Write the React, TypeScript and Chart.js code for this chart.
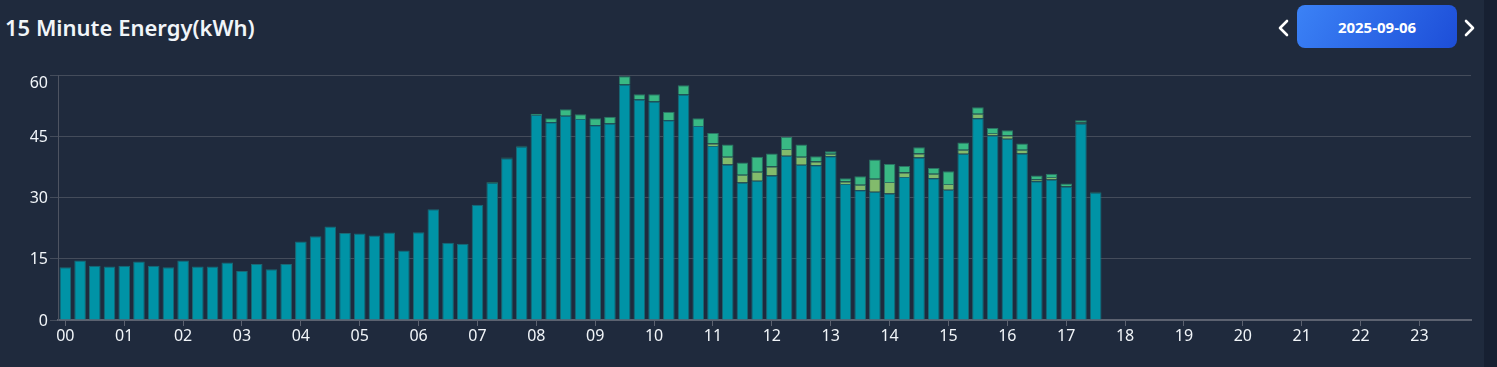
import React, { useEffect, useRef } from "react";
import { Chart, registerables } from "chart.js";

Chart.register(...registerables);

const TITLE = "15 Minute Energy(kWh)";
const DATE_LABEL = "2025-09-06";

const HOUR_LABELS = ["00","01","02","03","04","05","06","07","08","09","10","11","12","13","14","15","16","17","18","19","20","21","22","23"];
const QUARTERS = ["00", "15", "30", "45"];
const SLOT_LABELS = HOUR_LABELS.flatMap((h) => QUARTERS.map((q) => `${h}:${q}`));

const Y_TICKS = [0, 15, 30, 45, 60];

// teal base segment, slots 00:00 .. 17:30
const BASE_KWH = [
  12.9, 14.6, 13.3, 13.1, 13.3, 14.3, 13.3, 12.9, 14.6, 13.1, 13.1, 14.1,
  12.0, 13.7, 12.4, 13.7, 19.2, 20.5, 22.9, 21.3, 21.2, 20.7, 21.4, 17.0,
  21.5, 27.1, 18.9, 18.7, 28.2, 33.6, 39.6, 42.5, 50.2, 48.4, 50.0, 49.2,
  47.7, 48.1, 57.7, 54.0, 53.5, 48.9, 55.2, 47.5, 42.6, 38.1, 33.7, 34.1,
  35.4, 40.2, 38.0, 37.9, 40.1, 33.3, 31.8, 31.4, 31.0, 35.0, 39.8, 34.7,
  31.9, 40.7, 49.4, 45.2, 44.4, 40.8, 34.0, 34.4, 32.7, 48.1, 31.2,
];
const BASE_START = 0;

// olive middle segment, slots 11:00 .. 17:15
const MID_KWH = [
  0.6, 1.9, 1.9, 2.2, 2.2, 1.7, 2.0, 0.9, 0.6, 0.6, 1.3, 3.2, 2.8,
  1.1, 1.0, 1.1, 1.4, 1.0, 1.1, 0.6, 0.8, 0.9, 0.5, 0.6, 0.1, 0.3,
];
const MID_START = 44;

// green top segment, slots 07:15 .. 17:30
const TOP_KWH = [
  0.2, 0.2, 0.2, 0.3, 1.0, 1.6, 1.2, 1.7, 1.7, 2.0, 1.3, 1.8, 2.1, 2.3,
  1.9, 2.6, 3.0, 3.0, 3.7, 3.2, 2.9, 3.0, 1.3, 0.6, 0.8, 2.1, 4.7, 4.4,
  1.6, 1.5, 1.4, 3.1, 1.8, 1.6, 1.2, 1.3, 1.5, 0.9, 0.8, 0.6, 0.5, 0.2,
];
const TOP_START = 29;

function place(start: number, values: number[]): (number | null)[] {
  return SLOT_LABELS.map((_, i) => {
    const k = i - start;
    return k >= 0 && k < values.length ? values[k] : null;
  });
}

const BG = "#1f2a3d";
const GRID = "#444c5b";
const TEXT = "#f1f5f9";
const FONT = "'Noto Sans', 'Open Sans', sans-serif";

const yLabelPlugin = {
  id: "yLabels",
  afterDraw(chart: any) {
    const y = chart.scales.y;
    const area = chart.chartArea;
    const ctx = chart.ctx;
    ctx.save();
    ctx.font = `16px ${FONT}`;
    ctx.fillStyle = TEXT;
    ctx.textAlign = "right";
    ctx.textBaseline = "middle";
    Y_TICKS.forEach((v) => {
      let py = y.getPixelForValue(v);
      if (py < area.top + 7) py = area.top + 7;
      ctx.fillText(String(v), 48, py + 1);
    });
    ctx.restore();
  },
};

export default function App() {
  const ref = useRef<HTMLCanvasElement | null>(null);

  useEffect(() => {
    document.body.style.margin = "0";
    document.body.style.background = BG;
    const canvas = ref.current;
    if (!canvas) return;
    const chart = new Chart(canvas, {
      type: "bar",
      data: {
        labels: SLOT_LABELS,
        datasets: [
          {
            label: "Base",
            data: place(BASE_START, BASE_KWH),
            backgroundColor: "#0093a6",
            borderColor: "#1b6874",
            borderWidth: 1,
          },
          {
            label: "Middle",
            data: place(MID_START, MID_KWH),
            backgroundColor: "#82bb6c",
            borderColor: "#2e7264",
            borderWidth: 1,
          },
          {
            label: "Top",
            data: place(TOP_START, TOP_KWH),
            backgroundColor: "#39b984",
            borderColor: "#2b7565",
            borderWidth: 1,
          },
        ],
      },
      options: {
        responsive: false,
        animation: false,
        layout: { padding: { top: 75, right: 13, bottom: 17, left: 0 } },
        datasets: { bar: { categoryPercentage: 1, barPercentage: 0.79 } },
        plugins: {
          legend: { display: false },
          tooltip: { enabled: false },
          title: { display: false },
        },
        scales: {
          x: {
            type: "category",
            stacked: true,
            offset: true,
            grid: {
              display: true,
              offset: false,
              drawOnChartArea: false,
              drawTicks: true,
              tickLength: 6,
              color: "#5c6270",
            },
            border: { display: true, color: "#5c6270", width: 2 },
            ticks: {
              autoSkip: false,
              maxRotation: 0,
              minRotation: 0,
              padding: 1,
              color: TEXT,
              font: { size: 16, family: FONT },
              callback: (_v: any, idx: number) =>
                idx % 4 === 0 ? HOUR_LABELS[idx / 4] : null,
            },
            afterFit: (s: any) => {
              s.height = 30;
            },
          },
          y: {
            stacked: true,
            min: 0,
            max: 60,
            grid: {
              color: GRID,
              drawTicks: true,
              tickLength: 8,
            },
            border: { display: true, color: "#4d5361", width: 1 },
            ticks: { stepSize: 15, display: false },
            afterFit: (s: any) => {
              s.width = 58;
            },
          },
        },
      },
      plugins: [yLabelPlugin],
    });
    return () => chart.destroy();
  }, []);

  const chevron = (dir: "left" | "right") => (
    <svg width="14" height="18" viewBox="0 0 14 18" style={{ display: "block" }}>
      <polyline
        points={dir === "left" ? "10,2 3,9 10,16" : "4,2 11,9 4,16"}
        fill="none"
        stroke="#ffffff"
        strokeWidth="2.6"
        strokeLinecap="round"
        strokeLinejoin="round"
      />
    </svg>
  );

  return (
    <div
      style={{
        position: "relative",
        width: 1497,
        height: 367,
        background: BG,
        overflow: "hidden",
        fontFamily: FONT,
      }}
    >
      <div
        style={{
          position: "absolute",
          left: 5,
          top: 12,
          fontSize: 22,
          lineHeight: "30px",
          fontWeight: 600,
          color: TEXT,
          whiteSpace: "nowrap",
        }}
      >
        {TITLE}
      </div>
      <div style={{ position: "absolute", left: 1277, top: 19 }}>{chevron("left")}</div>
      <div
        style={{
          position: "absolute",
          left: 1297,
          top: 5,
          width: 160,
          height: 43,
          borderRadius: 8,
          background: "linear-gradient(120deg, #3b82f6 0%, #1d4ed8 100%)",
          color: "#ffffff",
          fontWeight: 700,
          fontSize: 15,
          display: "flex",
          alignItems: "center",
          justifyContent: "center",
        }}
      >
        {DATE_LABEL}
      </div>
      <div style={{ position: "absolute", left: 1462, top: 19 }}>{chevron("right")}</div>
      <canvas
        ref={ref}
        width={1484}
        height={367}
        style={{ position: "absolute", left: 0, top: 0, width: 1484, height: 367 }}
      />
      <div
        style={{
          position: "absolute",
          left: 1484,
          top: 0,
          width: 13,
          height: 367,
          background: "#172032",
        }}
      />
    </div>
  );
}
